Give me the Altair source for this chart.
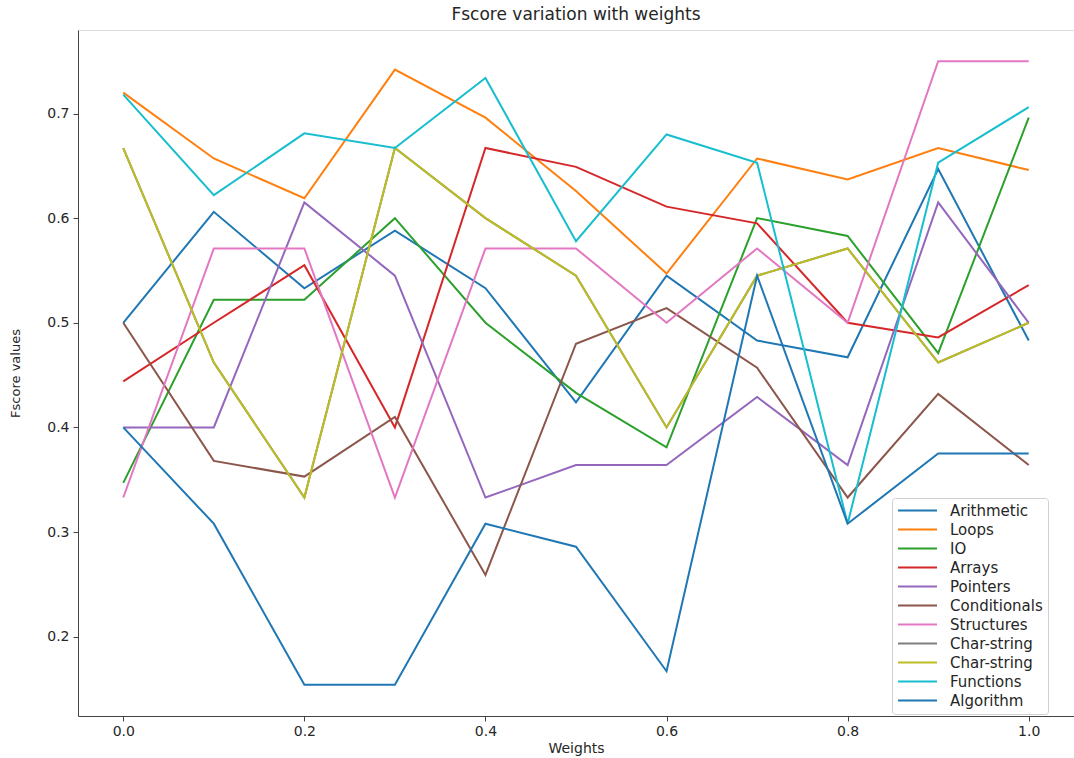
import altair as alt
import pandas as pd

# Weight settings on the x axis
weights = [0.0, 0.1, 0.2, 0.3, 0.4, 0.5, 0.6, 0.7, 0.8, 0.9, 1.0]

# Legend labels, in plotting order (the colour cycle repeats for the last one)
series_names = [
    "Arithmetic", "Loops", "IO", "Arrays", "Pointers", "Conditionals",
    "Structures", "Char-string", "Char-string", "Functions", "Algorithm",
]
series_colors = [
    "#1f77b4", "#ff7f0e", "#2ca02c", "#d62728", "#9467bd", "#8c564b",
    "#e377c2", "#7f7f7f", "#bcbd22", "#17becf", "#1f77b4",
]

# F-score per category at each weight
arithmetic = [0.500, 0.606, 0.533, 0.588, 0.533, 0.424, 0.545, 0.483, 0.467, 0.647, 0.483]
loops = [0.720, 0.657, 0.619, 0.742, 0.696, 0.626, 0.547, 0.657, 0.637, 0.667, 0.646]
io = [0.347, 0.522, 0.522, 0.600, 0.500, 0.433, 0.381, 0.600, 0.583, 0.471, 0.696]
arrays = [0.444, 0.500, 0.555, 0.400, 0.667, 0.649, 0.611, 0.595, 0.500, 0.486, 0.536]
pointers = [0.400, 0.400, 0.615, 0.545, 0.333, 0.364, 0.364, 0.429, 0.364, 0.615, 0.500]
conditionals = [0.500, 0.368, 0.353, 0.410, 0.259, 0.480, 0.514, 0.457, 0.333, 0.432, 0.364]
structures = [0.333, 0.571, 0.571, 0.333, 0.571, 0.571, 0.500, 0.571, 0.500, 0.750, 0.750]
char_string_a = [0.667, 0.462, 0.333, 0.667, 0.600, 0.545, 0.400, 0.545, 0.571, 0.462, 0.500]
char_string_b = [0.667, 0.462, 0.333, 0.667, 0.600, 0.545, 0.400, 0.545, 0.571, 0.462, 0.500]
functions = [0.718, 0.622, 0.681, 0.667, 0.734, 0.578, 0.680, 0.653, 0.308, 0.653, 0.706]
algorithm = [0.400, 0.308, 0.154, 0.154, 0.308, 0.286, 0.167, 0.545, 0.308, 0.375, 0.375]

all_series = [
    arithmetic, loops, io, arrays, pointers, conditionals,
    structures, char_string_a, char_string_b, functions, algorithm,
]

rows = []
for idx, values in enumerate(all_series):
    for w, v in zip(weights, values):
        rows.append({"series": idx, "weight": w, "fscore": v})
df = pd.DataFrame(rows)

FONT = "DejaVu Sans"
INK = "#262626"

label_lookup = "[" + ",".join("'" + n + "'" for n in series_names) + "][datum.value]"

chart = alt.Chart(df).mark_line(strokeWidth=2, clip=True).encode(
    x=alt.X(
        "weight:Q",
        scale=alt.Scale(domain=[-0.05, 1.05], nice=False, zero=False),
        axis=alt.Axis(
            values=[0.0, 0.2, 0.4, 0.6, 0.8, 1.0], format=".1f", title="Weights",
            grid=False, tickSize=5, labelPadding=3, titlePadding=3,
            labelFontSize=14, titleFontSize=14, labelFont=FONT, titleFont=FONT,
            labelColor=INK, titleColor=INK, titleFontWeight="normal",
            domainColor="#444", tickColor="#444",
        ),
    ),
    y=alt.Y(
        "fscore:Q",
        scale=alt.Scale(domain=[0.1242, 0.7798], nice=False, zero=False),
        axis=alt.Axis(
            values=[0.2, 0.3, 0.4, 0.5, 0.6, 0.7], format=".1f", title="Fscore values",
            grid=False, tickSize=5, labelPadding=4, titlePadding=24,
            labelFontSize=14, titleFontSize=13, labelFont=FONT, titleFont=FONT,
            labelColor=INK, titleColor=INK, titleFontWeight="normal",
            domainColor="#444", tickColor="#444",
        ),
    ),
    color=alt.Color(
        "series:N",
        scale=alt.Scale(domain=list(range(len(series_names))), range=series_colors),
        legend=alt.Legend(
            title=None, orient="none", legendX=814, legendY=468,
            labelExpr=label_lookup,
            labelFont=FONT, labelFontSize=15, labelColor=INK,
            symbolType="M-3,0H3", symbolSize=169, symbolStrokeWidth=2,
            symbolOffset=13, labelOffset=25, rowPadding=3,
            padding=5, strokeColor="#d0d0d0", fillColor="#ffffff",
            cornerRadius=3,
        ),
    ),
).properties(
    width=996,
    height=686,
    autosize=alt.AutoSizeParams(type="none"),
    padding={"left": 78, "top": 30, "right": 0, "bottom": 42},
    title=alt.Title(
        "Fscore variation with weights", font=FONT, fontSize=17,
        fontWeight="normal", color=INK, offset=6,
    ),
).configure_view(
    stroke="#444", strokeWidth=1
).configure(background="white")

chart.save("out.html", embed_options={"renderer": "svg", "actions": False})
